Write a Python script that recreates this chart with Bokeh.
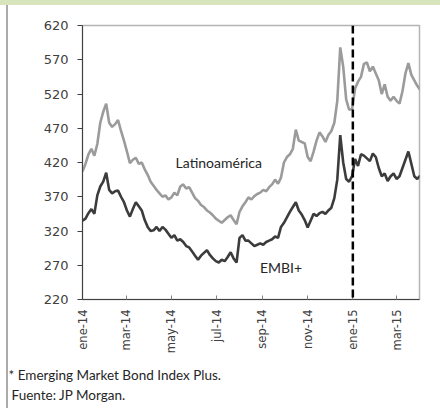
import pandas as pd
from bokeh.plotting import figure
from bokeh.models import ColumnDataSource, FixedTicker, Span, Label, Title
from bokeh.embed import file_html
from bokeh.resources import INLINE

# ---- data (basis points), sampled every 4 days from 2014-01-01 ----
start_date = "2014-01-01"
latam = [407, 418, 432, 440, 430, 447, 478, 494, 506, 478, 472, 476, 482, 466, 452, 436,
         419, 424, 427, 418, 420, 410, 402, 392, 386, 380, 375, 370, 372, 366, 369, 376,
         372, 385, 388, 382, 384, 376, 368, 364, 358, 355, 350, 347, 343, 338, 335, 332,
         336, 340, 343, 336, 330, 348, 356, 362, 369, 366, 371, 374, 376, 380, 378, 384,
         388, 395, 389, 398, 420, 428, 432, 440, 468, 452, 450, 448, 428, 422, 436, 452,
         464, 458, 450, 460, 466, 478, 510, 588, 560, 512, 497, 498, 528, 538, 545, 564,
         566, 553, 560, 550, 540, 520, 534, 516, 510, 516, 510, 506, 524, 550, 565, 548,
         540, 532, 526]
embi = [335, 338, 346, 352, 345, 372, 385, 392, 405, 380, 375, 378, 379, 370, 362, 350,
        341, 352, 362, 356, 350, 336, 326, 320, 321, 326, 320, 326, 322, 316, 310, 314,
        306, 308, 304, 298, 296, 290, 284, 278, 284, 288, 292, 285, 280, 276, 274, 278,
        276, 282, 289, 280, 274, 310, 314, 306, 306, 302, 298, 300, 302, 300, 304, 306,
        308, 312, 310, 326, 332, 340, 348, 355, 362, 350, 344, 336, 325, 335, 345, 342,
        346, 348, 345, 350, 354, 368, 395, 460, 420, 396, 392, 400, 425, 415, 432, 430,
        426, 422, 433, 428, 412, 400, 404, 393, 400, 404, 396, 400, 412, 424, 436, 418,
        400, 396, 401]
dates = pd.date_range(start_date, periods=len(latam), freq="4D")

tick_dates = ["2014-01-01", "2014-03-01", "2014-05-01", "2014-07-01",
              "2014-09-01", "2014-11-01", "2015-01-01", "2015-03-01"]
tick_labels = ["ene-14", "mar-14", "may-14", "jul-14", "sep-14", "nov-14", "ene-15", "mar-15"]
y_ticks = [220, 270, 320, 370, 420, 470, 520, 570, 620]
event_date = "2015-01-01"
x_start, x_end = "2014-01-01", "2015-04-01"

series_names = ["Latinoamérica", "EMBI+"]
notes = ["* Emerging Market Bond Index Plus.", "Fuente: JP Morgan."]

src = ColumnDataSource(dict(date=dates, latam=latam, embi=embi))

def ms(d):
    return pd.Timestamp(d).value // 10**6

p = figure(width=440, height=408, output_backend="svg", toolbar_location=None,
           x_axis_type="datetime",
           x_range=(pd.Timestamp(x_start), pd.Timestamp(x_end)),
           y_range=(y_ticks[0], y_ticks[-1]),
           min_border_left=82, min_border_right=21, min_border_top=25, min_border_bottom=109)
p.frame_width = 337
p.frame_height = 274
p.background_fill_color = "white"
p.border_fill_color = None
p.outline_line_color = "#b4b4b4"
p.outline_line_width = 1.5
p.xgrid.visible = False
p.ygrid.visible = False

# page decoration: green band along the top, grey rule down the left side
p.styles = {
    "background-color": "white",
    "background-image": "linear-gradient(#d8e4bc, #d8e4bc), linear-gradient(#ababab, #ababab)",
    "background-size": "440px 5px, 2px 403px",
    "background-position": "0px 0px, 6px 5px",
    "background-repeat": "no-repeat",
}

p.line("date", "latam", source=src, line_color="#9b9b9b", line_width=2.6)
p.line("date", "embi", source=src, line_color="#3c3c3c", line_width=2.6)

p.add_layout(Span(location=ms(event_date), dimension="height", line_color="black",
                  line_width=2.5, line_dash="8 4"))

# axes
p.yaxis.ticker = FixedTicker(ticks=y_ticks)
p.yaxis.major_tick_out = 5
p.yaxis.major_tick_in = 0
p.yaxis.minor_tick_line_color = None
p.yaxis.axis_line_color = "#404040"
p.yaxis.major_tick_line_color = "#404040"
p.yaxis.major_label_text_font = "DejaVu Sans"
p.yaxis.major_label_text_font_size = "13px"
p.yaxis.major_label_text_color = "#404040"
p.yaxis.major_label_standoff = 9

tick_ms = [ms(d) for d in tick_dates]
p.xaxis.ticker = FixedTicker(ticks=tick_ms)
p.xaxis.major_label_overrides = {t: l for t, l in zip(tick_ms, tick_labels)}
p.xaxis.major_tick_out = 0
p.xaxis.major_tick_in = 4
p.xaxis.minor_tick_line_color = None
p.xaxis.axis_line_color = "#404040"
p.xaxis.major_tick_line_color = "#808080"
p.xaxis.major_label_orientation = 3.14159265 / 2
p.xaxis.major_label_text_font = "DejaVu Sans"
p.xaxis.major_label_text_font_size = "11.5px"
p.xaxis.major_label_text_color = "#404040"
p.xaxis.major_label_standoff = 10

# series labels
p.add_layout(Label(x=pd.Timestamp("2014-07-04"), y=420, text=series_names[0],
                   text_font="Lato", text_font_size="14px", text_color="#262626",
                   text_align="center", text_baseline="middle"))
p.add_layout(Label(x=pd.Timestamp("2014-09-26"), y=267, text=series_names[1],
                   text_font="Lato", text_font_size="14px", text_color="#262626",
                   text_align="center", text_baseline="middle"))

# footnotes below the axis
p.add_layout(Title(text=notes[0], align="left", offset=-74, standoff=17,
                   text_font="Lato", text_font_size="13.5px", text_font_style="normal",
                   text_color="#262626"), "below")
p.add_layout(Title(text=notes[1], align="left", offset=-71, standoff=-13,
                   text_font="Lato", text_font_size="13.5px", text_font_style="normal",
                   text_color="#262626"), "below")

open("out.html", "w").write(file_html(p, INLINE))
